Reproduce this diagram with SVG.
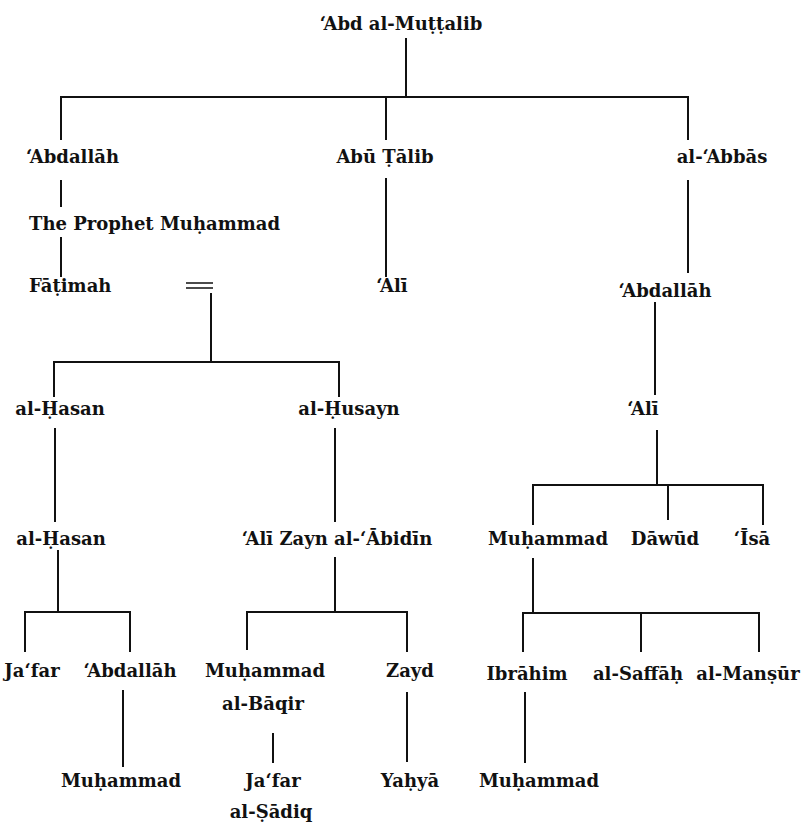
<svg xmlns="http://www.w3.org/2000/svg" width="803" height="823" viewBox="0 0 803 823">
<style>
.n text{font-family:"DejaVu Serif","Liberation Serif",serif;font-weight:bold;font-size:18px;fill:#111;text-anchor:middle}
.n text.s{text-anchor:start}
#connectors path{fill:none;stroke:#111;stroke-width:2}
#connectors path.eq{stroke-width:1.6}
</style>
<rect width="803" height="823" fill="#fff"/>
<g id="connectors">
<path d="M406 38V97"/>
<path d="M61 140V97H688V140"/>
<path d="M386 97V140"/>
<path d="M61 180V207"/>
<path d="M61 237V277"/>
<path d="M386 178V277"/>
<path d="M688 180V273"/>
<path class="eq" d="M186 283H213M186 288H213"/>
<path d="M211 293V362"/>
<path d="M54 397V362H339V397"/>
<path d="M55 428V522"/>
<path d="M335 428V522"/>
<path d="M655 302V395"/>
<path d="M657 430V485"/>
<path d="M533 525V485H763V525"/>
<path d="M668 485V520"/>
<path d="M58 550V612"/>
<path d="M25 652V612H130V652"/>
<path d="M335 557V612"/>
<path d="M247 650V612H407V652"/>
<path d="M123 690V767"/>
<path d="M273 733V763"/>
<path d="M407 692V762"/>
<path d="M533 558V613"/>
<path d="M523 652V613H759V652"/>
<path d="M641 613V652"/>
<path d="M525 692V763"/>
</g>
<g id="abd-al-muttalib" class="n"><text x="401" y="30">‘Abd al-Muṭṭalib</text></g>
<g id="abdallah" class="n"><text class="s" x="26" y="163">‘Abdallāh</text></g>
<g id="abu-talib" class="n"><text x="385" y="163">Abū Ṭālib</text></g>
<g id="al-abbas" class="n"><text x="722" y="163">al-‘Abbās</text></g>
<g id="prophet" class="n"><text class="s" x="29" y="230">The Prophet Muḥammad</text></g>
<g id="fatimah" class="n"><text class="s" x="29" y="292">Fāṭimah</text></g>
<g id="ali" class="n"><text x="392" y="292">‘Alī</text></g>
<g id="abdallah-2" class="n"><text x="665" y="297">‘Abdallāh</text></g>
<g id="al-hasan" class="n"><text x="60" y="415">al-Ḥasan</text></g>
<g id="al-husayn" class="n"><text x="349" y="415">al-Ḥusayn</text></g>
<g id="ali-2" class="n"><text x="643" y="415">‘Alī</text></g>
<g id="al-hasan-2" class="n"><text x="61" y="545">al-Ḥasan</text></g>
<g id="ali-zayn" class="n"><text x="337" y="545">‘Alī Zayn al-‘Ābidīn</text></g>
<g id="muhammad-abbasid" class="n"><text x="548" y="545">Muḥammad</text></g>
<g id="dawud" class="n"><text x="665" y="545">Dāwūd</text></g>
<g id="isa" class="n"><text x="752" y="545">‘Īsā</text></g>
<g id="jafar" class="n"><text x="32" y="677">Ja‘far</text></g>
<g id="abdallah-3" class="n"><text x="130" y="677">‘Abdallāh</text></g>
<g id="muhammad-baqir" class="n"><text x="265" y="677">Muḥammad</text><text x="263" y="710">al-Bāqir</text></g>
<g id="zayd" class="n"><text x="410" y="677">Zayd</text></g>
<g id="ibrahim" class="n"><text x="527" y="680">Ibrāhim</text></g>
<g id="al-saffah" class="n"><text x="638" y="680">al-Saffāḥ</text></g>
<g id="al-mansur" class="n"><text x="748" y="680">al-Manṣūr</text></g>
<g id="muhammad-2" class="n"><text x="121" y="787">Muḥammad</text></g>
<g id="jafar-sadiq" class="n"><text x="273" y="787">Ja‘far</text><text x="271" y="818">al-Ṣādiq</text></g>
<g id="yahya" class="n"><text x="410" y="787">Yaḥyā</text></g>
<g id="muhammad-3" class="n"><text x="539" y="787">Muḥammad</text></g>
</svg>
